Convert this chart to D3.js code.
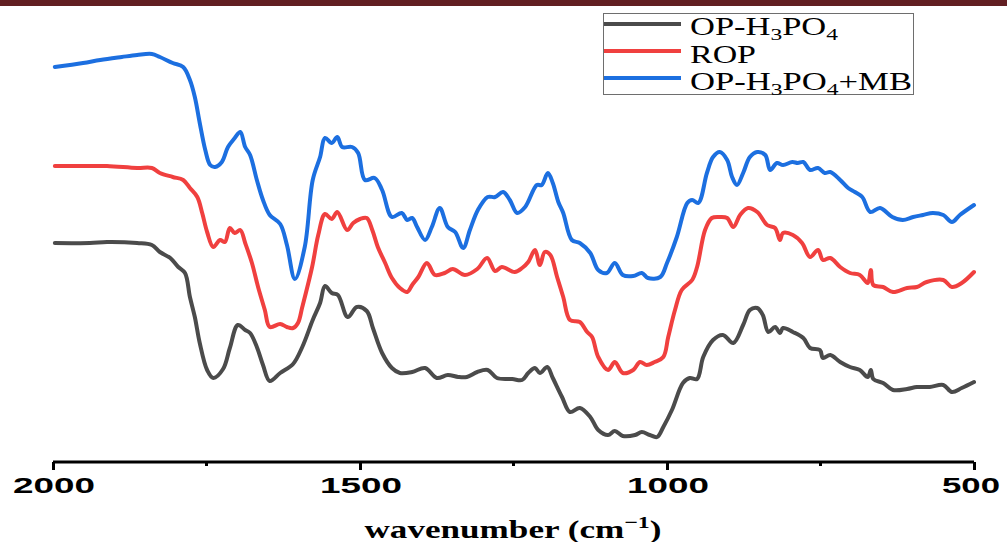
<!DOCTYPE html>
<html>
<head>
<meta charset="utf-8">
<script src="https://cdn.jsdelivr.net/npm/d3@7"></script>
<style>
  body { margin: 0; background: #fff; }
  svg { display: block; }
</style>
</head>
<body>
<div class="chart"></div>
<script>
// FTIR spectra, transmittance in arbitrary units (curves offset)
var opWave = [1997, 1940, 1912, 1863, 1839, 1826, 1809, 1796, 1785, 1777, 1769, 1761, 1749, 1739, 1723, 1712, 1699, 1687, 1679, 1668, 1658, 1647, 1630, 1609, 1594, 1577, 1565, 1557, 1546, 1536, 1520, 1505, 1489, 1479, 1464, 1448, 1435, 1415, 1394, 1375, 1357, 1340, 1326, 1309, 1292, 1277, 1252, 1236, 1226, 1215, 1207, 1195, 1186, 1171, 1158, 1142, 1125, 1112, 1096, 1085, 1072, 1052, 1041, 1028, 1016, 1006, 992, 974, 963, 951, 941, 925, 909, 892, 876, 865, 853, 844, 835, 824, 816, 811, 795, 778, 767, 751, 746, 734, 718, 702, 686, 673, 668, 664, 648, 632, 609, 593, 572, 550, 536, 520, 500];
var opT = [219, 219, 220, 219, 217, 210, 204, 195, 189, 165, 145, 119, 92, 84, 93, 114, 137, 132, 129, 115, 97, 81, 89, 98, 115, 142, 159, 176, 169, 167, 145, 155, 151, 134, 109, 94, 89, 90, 94, 84, 87, 85, 85, 90, 92, 84, 83, 82, 89, 94, 89, 95, 84, 65, 50, 54, 45, 32, 27, 31, 26, 27, 30, 27, 25, 35, 52, 79, 84, 83, 105, 122, 127, 119, 137, 152, 154, 147, 130, 135, 129, 134, 130, 124, 114, 112, 104, 107, 100, 95, 92, 85, 92, 83, 79, 72, 73, 75, 75, 77, 70, 74, 80];

var ropWave = [1997, 1951, 1912, 1863, 1839, 1826, 1805, 1788, 1777, 1765, 1757, 1749, 1739, 1728, 1720, 1712, 1704, 1695, 1687, 1676, 1666, 1655, 1647, 1630, 1619, 1609, 1601, 1594, 1578, 1568, 1557, 1546, 1537, 1521, 1511, 1500, 1489, 1480, 1471, 1459, 1448, 1435, 1423, 1415, 1405, 1391, 1378, 1362, 1349, 1329, 1309, 1293, 1280, 1269, 1248, 1236, 1226, 1215, 1207, 1199, 1190, 1179, 1169, 1158, 1142, 1130, 1122, 1112, 1096, 1085, 1072, 1055, 1044, 1033, 1020, 1006, 998, 987, 976, 959, 951, 938, 927, 914, 902, 892, 881, 868, 853, 837, 824, 816, 811, 795, 780, 767, 754, 746, 734, 718, 702, 686, 673, 668, 664, 648, 632, 609, 593, 577, 550, 536, 520, 500];
var ropT = [296, 296, 296, 294, 294, 289, 285, 282, 274, 265, 249, 230, 215, 222, 220, 234, 229, 232, 219, 199, 175, 152, 135, 138, 135, 134, 139, 155, 195, 227, 248, 243, 250, 232, 239, 243, 244, 232, 215, 199, 184, 174, 170, 177, 185, 199, 187, 189, 193, 187, 193, 204, 191, 195, 190, 194, 200, 212, 197, 210, 207, 185, 165, 142, 140, 130, 125, 105, 92, 100, 89, 92, 100, 97, 100, 105, 125, 152, 172, 182, 195, 232, 244, 245, 244, 235, 247, 254, 250, 237, 234, 222, 229, 227, 219, 205, 212, 202, 204, 195, 189, 187, 179, 192, 177, 175, 170, 174, 175, 180, 182, 175, 179, 190];

var mbWave = [1997, 1951, 1923, 1888, 1863, 1839, 1826, 1805, 1788, 1777, 1769, 1761, 1752, 1744, 1736, 1725, 1715, 1704, 1695, 1687, 1679, 1668, 1658, 1647, 1630, 1619, 1606, 1590, 1577, 1565, 1557, 1546, 1537, 1529, 1513, 1503, 1492, 1476, 1464, 1448, 1432, 1423, 1415, 1407, 1394, 1383, 1370, 1357, 1345, 1332, 1321, 1308, 1292, 1280, 1267, 1256, 1244, 1231, 1212, 1204, 1194, 1186, 1177, 1169, 1155, 1142, 1125, 1112, 1098, 1085, 1072, 1055, 1041, 1031, 1011, 1000, 984, 967, 959, 949, 935, 925, 914, 902, 894, 886, 876, 865, 853, 840, 832, 821, 811, 796, 787, 778, 767, 754, 743, 734, 718, 705, 694, 682, 669, 653, 633, 616, 599, 583, 567, 550, 536, 523, 500];
var mbT = [395, 399, 402, 405, 407, 408, 405, 399, 395, 382, 365, 339, 312, 297, 295, 300, 315, 324, 330, 315, 307, 282, 262, 247, 238, 217, 183, 215, 282, 305, 324, 319, 325, 315, 315, 309, 282, 284, 272, 245, 249, 242, 244, 235, 222, 235, 254, 235, 230, 214, 232, 252, 265, 265, 270, 262, 249, 255, 277, 277, 289, 279, 260, 249, 222, 219, 209, 192, 189, 199, 187, 186, 189, 184, 185, 199, 225, 259, 262, 259, 289, 305, 310, 302, 285, 277, 289, 305, 310, 307, 292, 299, 297, 300, 299, 300, 292, 294, 289, 290, 282, 274, 270, 265, 250, 254, 245, 242, 245, 247, 249, 247, 240, 247, 257];

var seriesNames = ["OP-H3PO4", "ROP", "OP-H3PO4+MB"];
var seriesColors = ["#4b4b4b", "#f0403f", "#1c6fe0"];
var majorTicks = [2000, 1500, 1000, 500];
var minorTicks = [1750, 1250, 750];

var svgWidth = 1007;
var svgHeight = 542;

var svg = d3.select(".chart")
  .append("svg")
  .attr("width", svgWidth)
  .attr("height", svgHeight);

// dark band along the top edge
svg.append("rect")
  .attr("x", 0).attr("y", 0)
  .attr("width", svgWidth).attr("height", 6)
  .attr("fill", "#621f22");

var xScale = d3.scaleLinear().domain([2000, 500]).range([53, 974]);
var yScale = d3.scaleLinear().domain([0, 462]).range([462, 0]);

var line = d3.line()
  .x(d => xScale(d[0]))
  .y(d => yScale(d[1]))
  .curve(d3.curveCatmullRom.alpha(0.5));

var series = [
  d3.zip(opWave, opT),
  d3.zip(ropWave, ropT),
  d3.zip(mbWave, mbT)
];

series.forEach(function(s, i) {
  svg.append("path")
    .datum(s)
    .attr("fill", "none")
    .attr("stroke", seriesColors[i])
    .attr("stroke-width", 4)
    .attr("stroke-linejoin", "round")
    .attr("stroke-linecap", "round")
    .attr("d", line);
});

// x axis
var axisY = 462;
var xAxis = svg.append("g")
  .attr("transform", `translate(0, ${axisY})`)
  .call(d3.axisBottom(xScale).tickValues(majorTicks).tickSize(8).tickFormat(""));
xAxis.select(".domain")
  .attr("d", `M${xScale(2000)},0H${xScale(500)}`)
  .attr("stroke", "#000").attr("stroke-width", 3);
xAxis.selectAll(".tick line").attr("stroke", "#000").attr("stroke-width", 3);

svg.append("g").selectAll("line")
  .data(minorTicks)
  .enter()
  .append("line")
  .attr("x1", d => xScale(d)).attr("x2", d => xScale(d))
  .attr("y1", axisY).attr("y2", axisY + 4)
  .attr("stroke", "#000").attr("stroke-width", 3);

svg.append("g").selectAll("text")
  .data(majorTicks)
  .enter()
  .append("text")
  .attr("x", d => xScale(d) + (d === 500 ? -3 : 1))
  .attr("y", 493)
  .attr("text-anchor", "middle")
  .attr("font-family", "Liberation Sans, Arial, sans-serif")
  .attr("font-weight", "bold")
  .attr("font-size", 22)
  .attr("textLength", d => d >= 1000 ? 82 : 58)
  .attr("lengthAdjust", "spacingAndGlyphs")
  .text(d => d);

// axis title
var title = svg.append("text")
  .attr("x", 513)
  .attr("y", 538)
  .attr("text-anchor", "middle")
  .attr("font-family", "Liberation Serif, Times New Roman, serif")
  .attr("font-weight", "bold")
  .attr("font-size", 25)
  .attr("textLength", 297)
  .attr("lengthAdjust", "spacingAndGlyphs");
title.append("tspan").text("wavenumber (cm");
title.append("tspan").attr("font-size", 17).attr("dy", -10).text("\u22121");
title.append("tspan").attr("dy", 10).text(")");

// legend
var legend = svg.append("g");
legend.append("rect")
  .attr("x", 603.5).attr("y", 13.5)
  .attr("width", 310).attr("height", 81)
  .attr("fill", "#fff")
  .attr("stroke", "#6e6e6e").attr("stroke-width", 1);

var legendRows = [24, 51, 78];
var legendBase = [35, 63, 90];
var legendLen = [148, 66, 222];

seriesNames.forEach(function(name, i) {
  legend.append("line")
    .attr("x1", 604).attr("x2", 681)
    .attr("y1", legendRows[i]).attr("y2", legendRows[i])
    .attr("stroke", seriesColors[i]).attr("stroke-width", 4);

  var t = legend.append("text")
    .attr("x", 690).attr("y", legendBase[i])
    .attr("font-family", "Liberation Serif, Times New Roman, serif")
    .attr("font-size", 25)
    .attr("textLength", legendLen[i])
    .attr("lengthAdjust", "spacingAndGlyphs");

  if (name.indexOf("H3PO4") >= 0) {
    t.append("tspan").text("OP-H");
    t.append("tspan").attr("font-size", 17).attr("dy", 5).text("3");
    t.append("tspan").attr("dy", -5).text("PO");
    t.append("tspan").attr("font-size", 17).attr("dy", 5).text("4");
    if (name.indexOf("+MB") >= 0) {
      t.append("tspan").attr("dy", -5).text("+MB");
    }
  } else {
    t.text(name);
  }
});
</script>
</body>
</html>
